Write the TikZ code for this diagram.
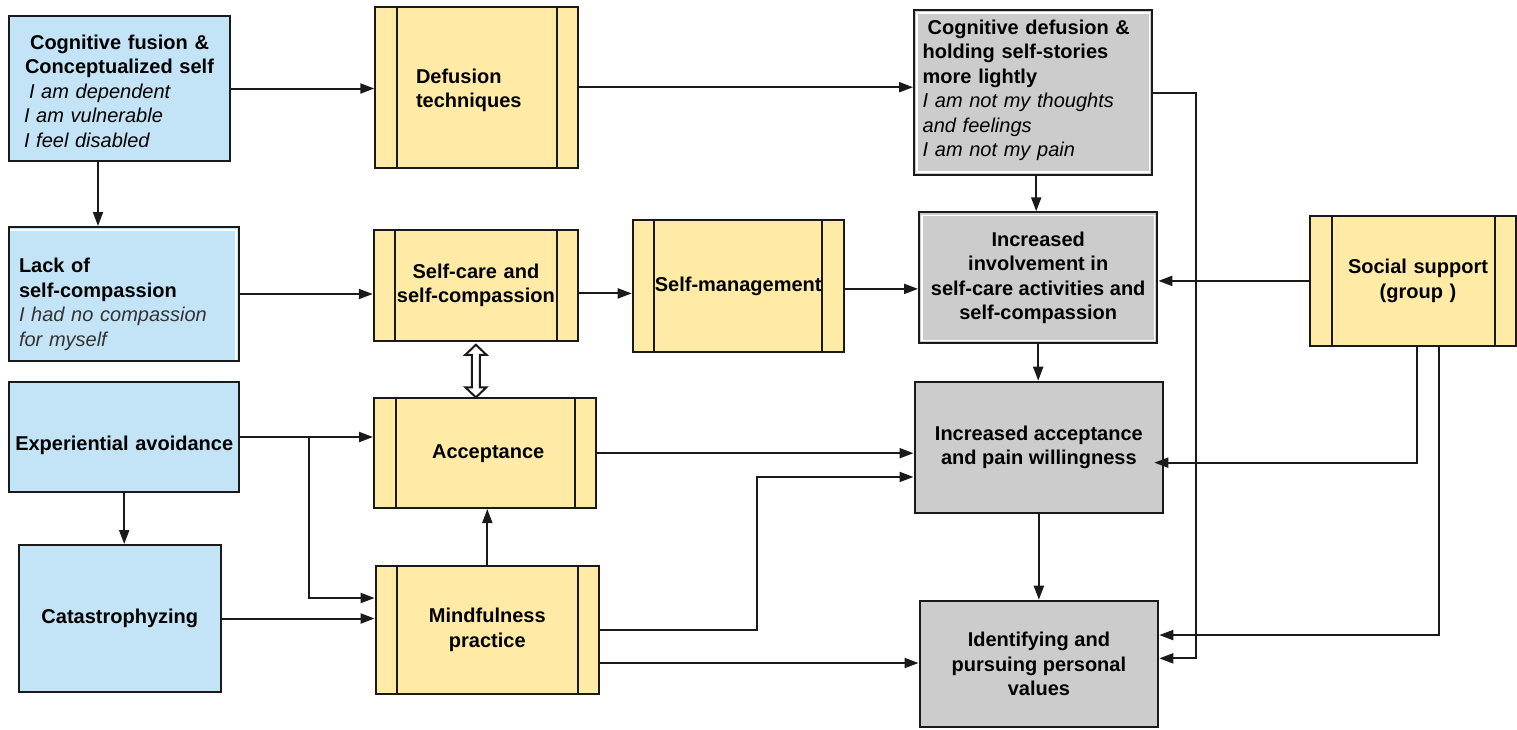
\documentclass[tikz,border=0pt]{standalone}
\usepackage{fontspec}
\setmainfont{Liberation Sans}
\usetikzlibrary{arrows.meta,calc}

\definecolor{blueF}{HTML}{C2E4F6}
\definecolor{yelF}{HTML}{FFEBA6}
\definecolor{grayF}{HTML}{CCCCCC}
\definecolor{ink}{HTML}{1A1A1A}
\definecolor{slate}{HTML}{333333}

\tikzset{
  box/.style={draw=ink, line width=2pt, inner sep=0pt, align=center,
    font=\fontsize{20}{24.5}\selectfont\bfseries, text=black},
  bluebox/.style={box, fill=blueF},
  graybox/.style={box, fill=grayF},
  % white inner rim just inside the black border
  rimmed/.style={path picture={\draw[white, line width=1.5pt]
    ([shift={(3pt,-3pt)}]path picture bounding box.north west) rectangle
    ([shift={(-3pt,3pt)}]path picture bounding box.south east);}},
  rimTR/.style={path picture={\draw[white, line width=1.5pt]
    ([shift={(0pt,-3pt)}]path picture bounding box.north west) --
    ([shift={(-3pt,-3pt)}]path picture bounding box.north east) --
    ([shift={(-3pt,0pt)}]path picture bounding box.south east);}},
  % process box with two side bands
  procbox/.style={box, fill=yelF, path picture={\draw[ink, line width=2pt]
    ([xshift=21.5pt]path picture bounding box.north west) --
    ([xshift=21.5pt]path picture bounding box.south west)
    ([xshift=-21.5pt]path picture bounding box.north east) --
    ([xshift=-21.5pt]path picture bounding box.south east);}},
  arr/.style={draw=ink, line width=2pt, -{Triangle[length=14pt,width=10pt]}},
  hollow/.style={draw=ink, line width=2pt, fill=white, line join=miter},
}

\begin{document}
\begin{tikzpicture}[x=1pt,y=-1pt]
\useasboundingbox (0,0) rectangle (1517,729);

% ---- left column: starting conditions ----
\node[bluebox, minimum width=221pt, minimum height=145pt, text width=191pt, align=left] (CF) at (119.5,88.5)
  {{\centering\rule{0pt}{19.5pt}Cognitive fusion \&\\Conceptualized self\par}\mdseries\itshape\hspace*{5pt}I am dependent\\I am vulnerable\\I feel disabled};
\node[bluebox, rimTR, minimum width=230pt, minimum height=134pt, text width=210pt, align=left] (LSC) at (124,294)
  {\rule{0pt}{35.6pt}Lack of\\self-compassion\\{\mdseries\itshape\color{slate}I had no compassion\\for myself}};
\node[bluebox, minimum width=229.5pt, minimum height=110pt, text width=220pt] (EA) at (124.2,437)
  {\rule{0pt}{30.6pt}Experiential avoidance};
\node[bluebox, minimum width=201.6pt, minimum height=147pt] (CAT) at (119.8,618.5) {Catastrophyzing};

% ---- middle: processes ----
\node[procbox, minimum width=202.8pt, minimum height=161pt, text width=121.4pt, align=left] (Def) at (476.7,87.2)
  {\rule{0pt}{21.2pt}Defusion\\techniques};
\node[procbox, minimum width=204.3pt, minimum height=110.7pt, text width=200pt] (SC) at (475.9,285.4)
  {Self-care and\\self-compassion};
\node[procbox, minimum width=211pt, minimum height=131.7pt] (SM) at (738.2,285.9) {Self-management};
\node[procbox, minimum width=222.3pt, minimum height=109.7pt, text width=200pt] (AC) at (485.2,453.2)
  {\hspace*{6pt}Acceptance};
\node[procbox, minimum width=223.4pt, minimum height=128pt] (MP) at (487.3,630) {Mindfulness\\practice};
\node[procbox, minimum width=206pt, minimum height=129.7pt, text width=190pt] (SS) at (1413,280.9)
  {\hspace*{10pt}Social support\\\hspace*{10pt}(group )};

% ---- right column: outcomes ----
\node[graybox, rimmed, minimum width=238.3pt, minimum height=165pt, text width=221pt, align=left] (CD) at (1033.2,92.5)
  {\hspace*{5pt}Cognitive defusion \&\\holding self-stories\\more lightly\\{\mdseries\itshape I am not my thoughts\\and feelings\\I am not my pain}\par\vspace*{4pt}};
\node[graybox, rimmed, minimum width=238.3pt, minimum height=131pt] (II) at (1038.2,277.8)
  {Increased\\involvement in\\self-care activities and\\self-compassion};
\node[graybox, minimum width=248.8pt, minimum height=131.3pt] (IA) at (1038.9,447.35)
  {Increased acceptance\\and pain willingness};
\node[graybox, minimum width=238.8pt, minimum height=126.3pt] (ID) at (1038.9,663.85)
  {Identifying and\\pursuing personal\\values};

% ---- connectors ----
\draw[arr] (CF.east) -- (CF.east -| Def.west);
\draw[arr] ([xshift=-21.5pt]CF.south) -- ([xshift=-21.5pt]CF.south |- LSC.north);
\draw[arr] (LSC.east) -- (LSC.east -| SC.west);
\draw[arr] (Def.east) -- (Def.east -| CD.west);
\draw[arr] ([yshift=-8pt]SC.east) -- ([yshift=-8pt]SC.east -| SM.west);
\draw[arr] ([yshift=-3pt]SM.east) -- ([yshift=-3pt]SM.east -| II.west);
\draw[arr] ([xshift=3pt]CD.south) -- ([xshift=3pt]CD.south |- II.north);
\draw[arr] (CD.east) -- ++(43,0) |- ([yshift=5.5pt]ID.east);
\draw[arr] (SS.west) -- (SS.west -| II.east);
\draw[arr] ([xshift=4.3pt]SS.south) |- ([xshift=-10pt,yshift=-15.3pt]IA.east);
\draw[arr] ([xshift=25.7pt]SS.south) |- ([yshift=28.8pt]ID.east);
\draw[arr] (II.south) -- (II.south |- IA.north);
\draw[arr] (IA.south) -- (IA.south |- ID.north);
\draw[arr] (AC.east) -- (AC.east -| IA.west);
\draw[arr] (MP.east) -- ++(157,0) |- ([yshift=-29.6pt]IA.west);
\draw[arr] ([yshift=-33pt]MP.east) -- ([yshift=-33pt]MP.east -| ID.west);
\draw[arr] (EA.east) -- (EA.east -| AC.west);
\draw[arr] ([xshift=68.6pt]EA.east) |- ([yshift=32pt]MP.west);
\draw[arr] (EA.south) -- (EA.south |- CAT.north);
\draw[arr] (CAT.east) -- (CAT.east -| MP.west);
\draw[arr] (MP.north) -- (MP.north |- AC.south);

% hollow two-headed arrow between self-care and acceptance
\coordinate (dA) at (SC.south);
\coordinate (dB) at (SC.south |- AC.north);
\draw[hollow] ($(dA)+(0,3)$) -- ++(10.5,10) -- ++(-6.5,0) -- ($(dB)+(4,-10)$) -- ++(6.5,0)
  -- (dB) -- ++(-10.5,-10) -- ++(6.5,0) -- ($(dA)+(-4,13)$) -- ++(-6.5,0) -- cycle;
\end{tikzpicture}
\end{document}
